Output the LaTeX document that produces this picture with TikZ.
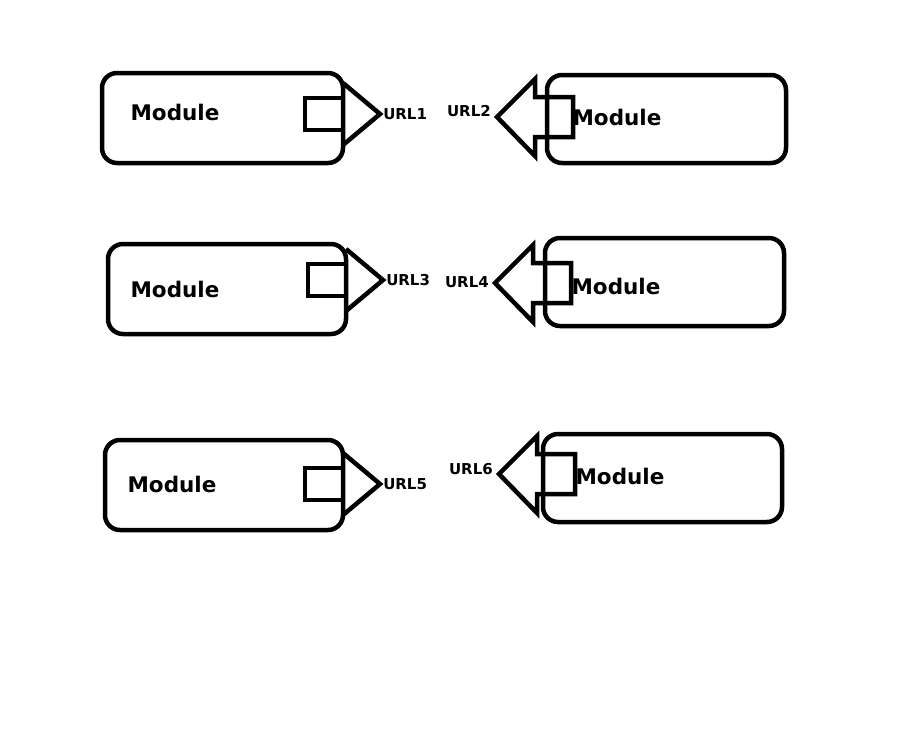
\documentclass[tikz,border=0pt]{standalone}
\usepackage{fontspec}
\setmainfont{DejaVu Sans}
\usepackage{tikz}

\begin{document}
\begin{tikzpicture}[x=1pt,y=-1pt,line width=4.5pt,line join=miter,
    modbox/.style={rounded corners=15pt},
    modtext/.style={font=\bfseries\fontsize{21.5}{24}\selectfont,inner sep=0pt},
    urltext/.style={font=\bfseries\fontsize{15}{17}\selectfont,inner sep=1pt}]
    \useasboundingbox (0,0) rectangle (906,737);
    \foreach\bx/\by/\tx/\ay/\mx/\my/\u in{102/73/343/114/175/112/1,
      108/244/346/280/175/289/3,105/440/343/484/172/484/5}{
      \draw[modbox] (\bx,\by) rectangle (\tx,\by+90);
      \draw (\tx-38,\ay-16) rectangle (\tx,\ay+16);
      \draw (\tx,\ay-31) -- (\tx+37,\ay) -- (\tx,\ay+31);
      \node[modtext] (modL\u) at (\mx,\my) {Module};
      \node[urltext,right] (url\u) at (\tx+37,\ay) {URL\u};};
    \foreach\bx/\by/\ax/\ay/\mx/\my/\ly/\u in{547/75/535/117/617/117/111/2,
      545/238/533/283/616/286/282/4,543/434/537/474/620/476/469/6}{
      \draw[modbox] (\bx,\by) rectangle +(239,88);
      \draw (\ax-38,\ay) -- (\ax,\ay-38) -- (\ax,\ay-20) -- (\ax+38,\ay-20)
      -- (\ax+38,\ay+20) -- (\ax,\ay+20) -- (\ax,\ay+39) -- cycle;
      \node[modtext] (modR\u) at (\mx,\my) {Module};
      \node[urltext,left] (url\u) at (\ax-41,\ly) {URL\u};};
  \end{tikzpicture}
\end{document}
